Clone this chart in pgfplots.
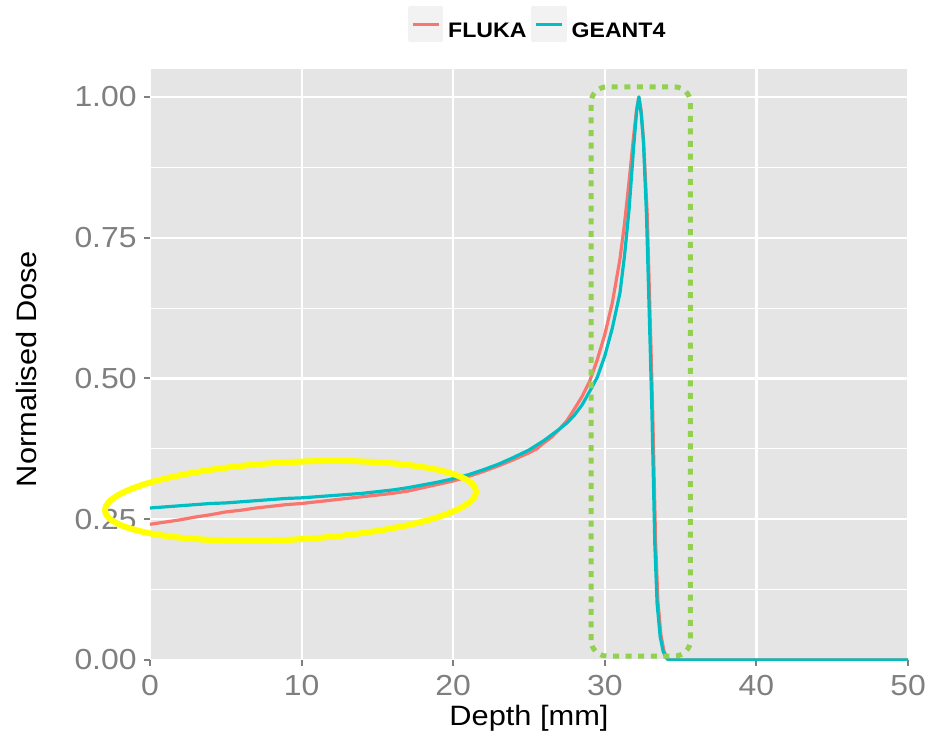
\documentclass[border=0pt]{standalone}
\usepackage{fontspec}
\setmainfont{Liberation Sans}[FakeStretch=1.1]
\usepackage{pgfplots}
\pgfplotsset{compat=1.18}
\definecolor{fluka}{HTML}{F8766D}
\definecolor{geant}{HTML}{00BFC4}
\definecolor{panel}{HTML}{E5E5E5}
\definecolor{tickgrey}{HTML}{7F7F7F}
\definecolor{ggreen}{HTML}{92D050}
\definecolor{yel}{HTML}{FFFF00}
\definecolor{legkey}{HTML}{F2F2F2}
\begin{document}
\begin{tikzpicture}
\begin{axis}[
  scale only axis, width=379pt, height=295.5pt,
  xmin=0, xmax=50, ymin=0, ymax=1.0497,
  axis background/.style={fill=panel},
  axis line style={draw=none},
  xtick={0,10,20,30,40,50},
  ytick={0,0.25,0.5,0.75,1},
  minor ytick={0.125,0.375,0.625,0.875},
  tick pos=left, tick align=outside,
  major tick length=3pt, minor tick length=0pt,
  tick style={color=tickgrey, line width=1pt},
  xmajorgrids, ymajorgrids, yminorgrids,
  major grid style={white, line width=1.1pt},
  minor grid style={white, line width=0.5pt},
  /pgf/number format/assume math mode=true,
  yticklabel style={/pgf/number format/fixed, /pgf/number format/fixed zerofill, /pgf/number format/precision=2, xshift=-3.5pt},
  xticklabel style={yshift=-4.5pt},
  ticklabel style={font=\fontsize{14.5}{16}\selectfont, text=tickgrey, inner sep=0pt},
  xlabel={Depth [mm]}, ylabel={Normalised Dose},
  label style={font=\fontsize{14}{16}\selectfont, text=black, inner sep=0pt},
  xlabel style={at={(axis description cs:0.5,-0.110)}, anchor=base},
  ylabel style={at={(axis description cs:-0.1496,0.4924)}, anchor=base},
  legend style={at={(axis description cs:0.3404,1.0761)}, anchor=west, draw=none, fill=none,
    inner sep=0pt, outer sep=0pt, font=\fontsize{10.5}{12}\selectfont\bfseries,
    /tikz/every even column/.append style={column sep=0pt},
    nodes={inner xsep=2.5pt, inner ysep=0pt, text=black}},
  legend columns=2,
  legend image code/.code={\fill[legkey] (0pt,-4.2pt) rectangle (16pt,11.8pt);
    \draw[#1, line width=1.5pt] (1.5pt,3.8pt) -- (14.5pt,3.8pt);},
]
\addplot[color=fluka, line width=1.6pt, line join=round] coordinates {
(0,0.241) (1,0.245) (2,0.249) (3,0.254) (4,0.258) (5,0.263) (6,0.266) (7,0.270)
(8,0.273) (9,0.276) (10,0.278) (11,0.281) (12,0.284) (13,0.287) (14,0.290) (15,0.293)
(16,0.296) (17,0.300) (18,0.306) (19,0.312) (20,0.318) (21,0.326) (22,0.335) (23,0.345)
(24,0.356) (25,0.368) (25.5,0.375) (26,0.386) (26.5,0.396) (27,0.410) (27.5,0.425)
(28,0.446) (28.5,0.468) (29,0.495) (29.5,0.533) (30,0.578) (30.5,0.635) (31,0.712)
(31.3,0.775) (31.6,0.850) (31.9,0.930) (32.1,0.978) (32.25,1.000) (32.4,0.975)
(32.55,0.925) (32.8,0.790) (33.05,0.550) (33.15,0.450) (33.35,0.210) (33.5,0.105)
(33.7,0.045) (33.9,0.016) (34.1,0.004) (34.25,0) (50,0)
};
\addlegendentry{FLUKA}
\addplot[color=geant, line width=1.6pt, line join=round] coordinates {
(0,0.270) (1,0.272) (2,0.274) (3,0.276) (4,0.278) (5,0.279) (6,0.281) (7,0.283)
(8,0.285) (9,0.287) (10,0.288) (11,0.290) (12,0.292) (13,0.294) (14,0.296) (15,0.299)
(16,0.302) (17,0.306) (18,0.311) (19,0.316) (20,0.322) (21,0.329) (22,0.338) (23,0.348)
(24,0.360) (25,0.373) (26,0.390) (27,0.410) (27.5,0.421) (28,0.435) (28.5,0.453)
(29,0.477) (29.5,0.502) (30,0.540) (30.5,0.590) (31,0.652) (31.3,0.718) (31.6,0.800)
(31.9,0.910) (32.1,0.975) (32.25,1.000) (32.4,0.970) (32.55,0.920) (32.75,0.790)
(33.0,0.550) (33.1,0.450) (33.3,0.205) (33.45,0.100) (33.65,0.042) (33.85,0.015)
(34.05,0.004) (34.2,0) (50,0)
};
\addlegendentry{GEANT4}
\coordinate (pSW) at (rel axis cs:0,0);
\coordinate (pNE) at (rel axis cs:1,1);
\coordinate (ellc) at (axis cs:9.27,0.2826);
\coordinate (gA) at (axis cs:29.09,0.007);
\coordinate (gB) at (axis cs:35.65,1.018);
\end{axis}
\draw[ggreen, line width=2.5pt, dash pattern=on 3pt off 3.3pt, rounded corners=8pt] (gA) rectangle (gB);
\draw[yel, line width=3pt, rotate around={3:(ellc)}] (ellc) ellipse [x radius=92.9pt, y radius=19.4pt];
\pgfresetboundingbox
\path ([shift={(-75pt,-37pt)}]pSW) rectangle ([shift={(11pt,34.5pt)}]pNE);
\end{tikzpicture}
\end{document}
